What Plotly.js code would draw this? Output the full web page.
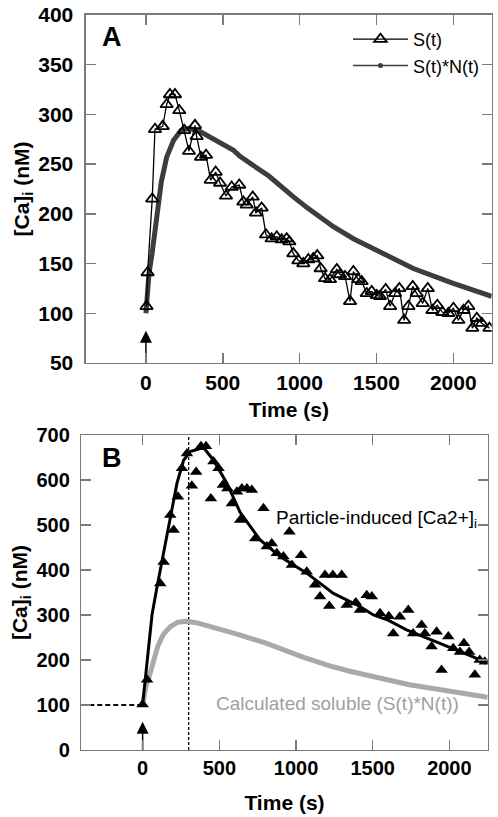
<!DOCTYPE html>
<html>
<head>
<meta charset="utf-8">
<script src="https://cdn.plot.ly/plotly-3.0.1.min.js"></script>
<style>html,body{margin:0;padding:0;background:#fff;}#chart{width:498px;height:817px;}</style>
</head>
<body>
<div id="chart"></div>
<script>
// ---------- Panel A: S(t) (open triangles) ----------
const sTime = [4, 11, 41, 59, 109, 135, 156, 189, 217, 249, 280, 319, 330, 358, 391, 421, 454, 482, 521, 558, 607, 634, 656, 695, 716, 753, 781, 818, 851, 883, 916, 933, 959, 992, 1024, 1057, 1089, 1115, 1137, 1165, 1198, 1242, 1263, 1296, 1328, 1350, 1382, 1404, 1437, 1469, 1502, 1523, 1560, 1589, 1621, 1649, 1680, 1708, 1736, 1762, 1801, 1834, 1864, 1896, 1929, 1968, 2001, 2033, 2066, 2098, 2124, 2153, 2185, 2235];
const sCa = [107, 141, 215, 285, 288, 310, 320, 320, 304, 284, 263, 289, 278, 257, 259, 234, 242, 231, 218, 227, 229, 212, 209, 217, 201, 206, 179, 175, 177, 174, 175, 172, 160, 153, 150, 154, 155, 158, 145, 135, 134, 144, 139, 137, 112, 142, 134, 132, 120, 122, 118, 117, 124, 107, 120, 125, 93, 107, 127, 120, 110, 125, 103, 108, 101, 100, 105, 93, 103, 107, 85, 95, 90, 85];

// ---------- S(t)*N(t) (calculated soluble), used in A and B ----------
const snTime = [0, 10, 20, 40, 70, 100, 135, 180, 230, 280, 350, 450, 570, 610, 800, 960, 1050, 1220, 1350, 1740, 2000, 2250];
const snCa = [100, 122, 140, 160, 200, 232, 257, 274, 284, 286, 283, 274, 264, 258, 238, 217, 206, 187, 175, 145, 130, 117];

// ---------- Panel B: particle-induced [Ca2+]i (filled triangles) ----------
const pTime = [0, 29, 115, 137, 180, 202, 230, 256, 289, 321, 349, 380, 413, 445, 462, 495, 523, 553, 582, 615, 636, 647, 680, 712, 734, 788, 810, 842, 875, 918, 957, 973, 1033, 1070, 1124, 1157, 1189, 1217, 1240, 1298, 1331, 1390, 1417, 1461, 1494, 1548, 1605, 1634, 1677, 1732, 1764, 1819, 1840, 1884, 1917, 1949, 1993, 2025, 2069, 2095, 2129, 2166, 2198, 2231];
const pCa = [101, 156, 370, 418, 522, 489, 563, 626, 659, 587, 618, 675, 675, 559, 641, 626, 589, 581, 548, 574, 511, 581, 581, 578, 470, 537, 452, 459, 437, 430, 485, 411, 433, 396, 367, 341, 389, 320, 389, 389, 322, 328, 311, 344, 341, 304, 297, 259, 296, 311, 259, 278, 259, 230, 263, 178, 252, 226, 218, 237, 218, 167, 200, 196];

// ---------- Panel B: fitted curve ----------
const fitTime = [0, 29, 61, 94, 137, 180, 224, 267, 310, 376, 402, 462, 549, 636, 766, 896, 1070, 1244, 1417, 1504, 1591, 1721, 1938, 2155, 2242];
const fitCa = [101, 200, 300, 363, 437, 518, 593, 644, 663, 670, 670, 644, 593, 528, 467, 430, 393, 348, 319, 300, 290, 267, 237, 207, 193];

// ---------- reference lines & stimulus arrows ----------
const baseTime = [-400, 0];
const baseCa = [100, 100];
const peakTime = [300, 300];
const peakCa = [0, 700];
const stemATime = [0, 0];
const stemACa = [50, 71];
const tipATime = [0];
const tipACa = [82.5];
const stemBTime = [0, 0];
const stemBCa = [0, 37];
const tipBTime = [0];
const tipBCa = [63];

const xTicks = [0, 500, 1000, 1500, 2000];

const FONT = 'Liberation Sans, Arial, sans-serif';
const AX = '#7a7a7a';

const traces = [
  {x: snTime, y: snCa, xaxis: 'x', yaxis: 'y', mode: 'lines', line: {color: '#3d3d3d', width: 5}, showlegend: false, hoverinfo: 'skip'},
  {x: sTime, y: sCa, xaxis: 'x', yaxis: 'y', mode: 'lines+markers', name: 'S(t)',
   line: {color: '#000', width: 1.3}, marker: {symbol: 'triangle-up-open', size: 11, color: '#000', line: {width: 1.8, color: '#000'}}},
  {x: [null], y: [null], xaxis: 'x', yaxis: 'y', mode: 'lines+markers', name: 'S(t)*N(t)',
   line: {color: '#3d3d3d', width: 1.5}, marker: {symbol: 'circle', size: 5, color: '#3d3d3d'}},
  {x: stemATime, y: stemACa, xaxis: 'x', yaxis: 'y', mode: 'lines', showlegend: false, line: {color: '#000', width: 1.5}},
  {x: tipATime, y: tipACa, xaxis: 'x', yaxis: 'y', mode: 'markers', showlegend: false, marker: {symbol: 'arrow-up', size: 12, color: '#000'}},

  {x: baseTime, y: baseCa, xaxis: 'x2', yaxis: 'y2', mode: 'lines', showlegend: false, line: {color: '#000', width: 2, dash: '5px,3px'}},
  {x: peakTime, y: peakCa, xaxis: 'x2', yaxis: 'y2', mode: 'lines', showlegend: false, line: {color: '#000', width: 1.3, dash: '3px,2px'}},
  {x: snTime, y: snCa, xaxis: 'x2', yaxis: 'y2', mode: 'lines', showlegend: false, line: {color: '#a9a9a9', width: 5}},
  {x: fitTime, y: fitCa, xaxis: 'x2', yaxis: 'y2', mode: 'lines', showlegend: false, line: {color: '#000', width: 3}},
  {x: pTime, y: pCa, xaxis: 'x2', yaxis: 'y2', mode: 'markers', showlegend: false, marker: {symbol: 'triangle-up', size: 11, color: '#000'}},
  {x: stemBTime, y: stemBCa, xaxis: 'x2', yaxis: 'y2', mode: 'lines', showlegend: false, line: {color: '#000', width: 1.5}},
  {x: tipBTime, y: tipBCa, xaxis: 'x2', yaxis: 'y2', mode: 'markers', showlegend: false, marker: {symbol: 'arrow-up', size: 12, color: '#000'}}
];

const titleFont = {family: FONT, size: 21, color: '#000', weight: 'bold'};
function axisBase(fs, extra) {
  return Object.assign({
    showline: true, linecolor: AX, linewidth: 1.5, mirror: 'ticks',
    ticks: 'inside', ticklen: 10, tickwidth: 1.5, tickcolor: AX,
    showgrid: false, zeroline: false, fixedrange: true,
    tickfont: {family: FONT, size: fs, color: '#000', weight: 'bold'}
  }, extra);
}

const layout = {
  width: 498, height: 817,
  margin: {l: 78, r: 4, t: 12, b: 60},
  paper_bgcolor: '#fff', plot_bgcolor: '#fff',
  font: {family: FONT, color: '#000'},
  showlegend: true,
  legend: {x: 0.649, y: 0.9879, xanchor: 'left', yanchor: 'top', bgcolor: 'rgba(0,0,0,0)', itemwidth: 55,
           font: {family: FONT, size: 18, color: '#000'}},
  xaxis: axisBase(21, {domain: [0.0192, 0.9945], range: [-390, 2250], tickvals: xTicks, anchor: 'y',
    title: {text: 'Time (s)', font: titleFont, standoff: 9}}),
  yaxis: axisBase(21, {domain: [0.5289, 0.9960], range: [50, 400], dtick: 50, anchor: 'x', ticklabelstandoff: 7,
    title: {text: '[Ca]<sub>i</sub> (nM)', font: titleFont}}),
  xaxis2: axisBase(20, {domain: [0.0079, 0.9849], range: [-400, 2250], tickvals: xTicks, anchor: 'y2',
    title: {text: 'Time (s)', font: titleFont, standoff: 17}}),
  yaxis2: axisBase(20, {domain: [0.0094, 0.4322], range: [0, 700], dtick: 100, anchor: 'x2', ticklabelstandoff: 6,
    title: {text: '[Ca]<sub>i</sub> (nM)', font: titleFont}}),
  annotations: [
    {text: 'A', xref: 'paper', yref: 'paper', x: 0.0817, y: 0.9658, xanchor: 'center', yanchor: 'middle', showarrow: false,
     font: {family: FONT, size: 27, weight: 'bold', color: '#000'}},
    {text: 'B', xref: 'paper', yref: 'paper', x: 0.0817, y: 0.4013, xanchor: 'center', yanchor: 'middle', showarrow: false,
     font: {family: FONT, size: 27, weight: 'bold', color: '#000'}},
    {text: 'Particle-induced [Ca2+]<sub>i</sub>', xref: 'x2', yref: 'y2', x: 857, y: 513, xanchor: 'left', showarrow: false,
     font: {family: FONT, size: 19, color: '#000'}},
    {text: 'Calculated soluble (S(t)*N(t))', xref: 'x2', yref: 'y2', x: 467, y: 104, xanchor: 'left', showarrow: false,
     font: {family: FONT, size: 19, color: '#a0a0a0'}}
  ]
};

Plotly.newPlot('chart', traces, layout, {displayModeBar: false, staticPlot: true});
</script>
</body>
</html>
